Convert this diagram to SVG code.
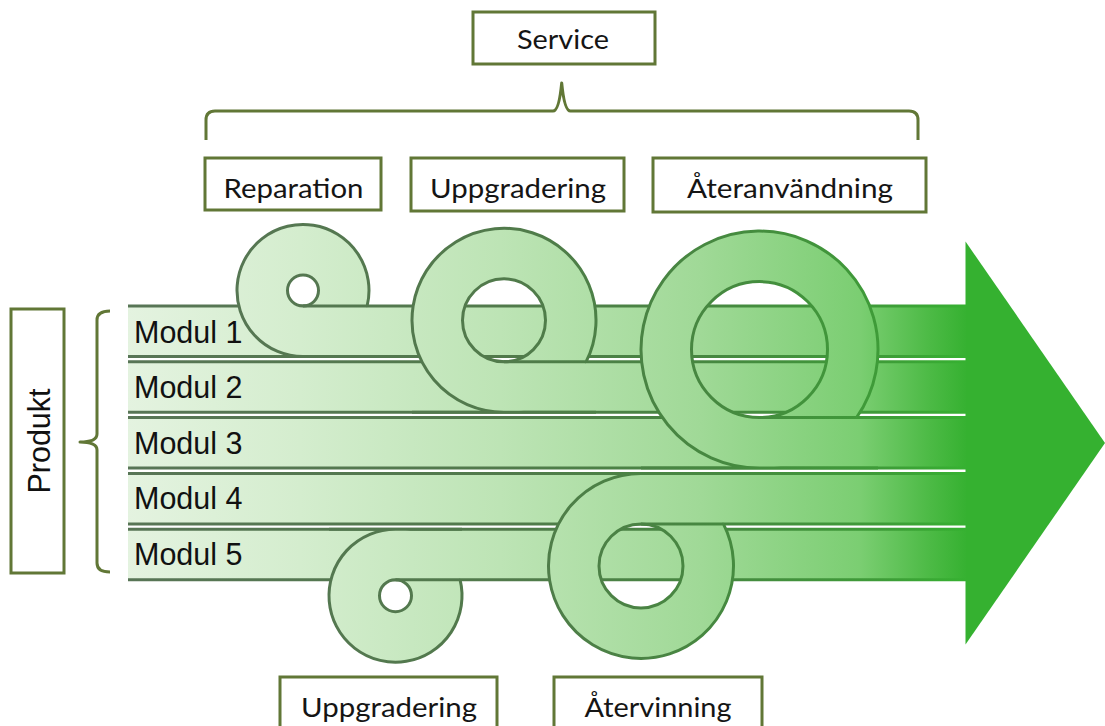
<svg xmlns="http://www.w3.org/2000/svg" width="1105" height="726" viewBox="0 0 1105 726">
  <defs>
    <linearGradient id="gFill" gradientUnits="userSpaceOnUse" x1="128" y1="0" x2="966" y2="0">
      <stop offset="0" stop-color="#e4f3e0"/>
      <stop offset="0.205" stop-color="#d4edce"/>
      <stop offset="0.444" stop-color="#bde4b5"/>
      <stop offset="0.683" stop-color="#a0d997"/>
      <stop offset="0.873" stop-color="#7bce72"/>
      <stop offset="0.957" stop-color="#4cba45"/>
      <stop offset="1" stop-color="#36b131"/>
    </linearGradient>
    <linearGradient id="gLine" gradientUnits="userSpaceOnUse" x1="128" y1="0" x2="966" y2="0">
      <stop offset="0" stop-color="#587556"/>
      <stop offset="0.45" stop-color="#517a4b"/>
      <stop offset="0.7" stop-color="#468840"/>
      <stop offset="0.9" stop-color="#3e9c38"/>
      <stop offset="1" stop-color="#36b131"/>
    </linearGradient>
  </defs>
  <style>
    .box { fill: #ffffff; stroke: #617736; stroke-width: 3; }
    .lbl { font-family: Lato, "Open Sans", sans-serif; font-size: 26.5px; fill: #151515; text-anchor: middle; }
    .mod { font-family: "Liberation Sans", Arial, sans-serif; font-size: 30.5px; fill: #111111; }
    .brace { fill: none; stroke: #617736; stroke-width: 3; stroke-linejoin: round; }
    .strip { fill: url(#gFill); }
    .edge { stroke: url(#gLine); stroke-width: 3; fill: none; }
    .loop { fill: url(#gFill); fill-rule: evenodd; }
  </style>

  <g id="arrow-head">
    <polygon points="965.5,241.5 1105,443 965.5,644.5" fill="#35b130"/>
  </g>

  <g id="strips">
    <g id="strip-1">
      <rect class="strip" x="128" y="306" width="838" height="50.5"/>
      <path class="edge" d="M128,306 H966 M128,356.5 H966"/>
      <text class="mod" x="134" y="342.5">Modul 1</text>
    </g>
    <g id="strip-2">
      <rect class="strip" x="128" y="361.8" width="838" height="50.5"/>
      <path class="edge" d="M128,361.8 H966 M128,412.3 H966"/>
      <text class="mod" x="134" y="398.3">Modul 2</text>
    </g>
    <g id="strip-3">
      <rect class="strip" x="128" y="417.6" width="838" height="50.5"/>
      <path class="edge" d="M128,417.6 H966 M128,468.1 H966"/>
      <text class="mod" x="134" y="453.6">Modul 3</text>
    </g>
    <g id="strip-4">
      <rect class="strip" x="128" y="473.4" width="838" height="50.5"/>
      <path class="edge" d="M128,473.4 H966 M128,523.9 H966"/>
      <text class="mod" x="134" y="509.2">Modul 4</text>
    </g>
    <g id="strip-5">
      <rect class="strip" x="128" y="529.2" width="838" height="50.5"/>
      <path class="edge" d="M128,529.2 H966 M128,579.7 H966"/>
      <text class="mod" x="134" y="565">Modul 5</text>
    </g>
  </g>

  <g id="loops">
    <g id="loop-reparation">
      <path class="loop" d="M237,290.5 A66,66 0 1 0 369,290.5 A66,66 0 1 0 237,290.5 Z M287.5,290.5 A15.5,15.5 0 1 0 318.5,290.5 A15.5,15.5 0 1 0 287.5,290.5 Z"/>
      <path class="edge" d="M367.15,306 A66,66 0 1 0 303,356.5 M303,306 L367.15,306 M237,356.5 H369"/>
      <circle class="edge" cx="303" cy="290.5" r="15.5"/>
    </g>
    <g id="loop-uppgradering-top">
      <path class="loop" d="M412,320.3 A92,92 0 1 0 596,320.3 A92,92 0 1 0 412,320.3 Z M462.5,320.3 A41.5,41.5 0 1 0 545.5,320.3 A41.5,41.5 0 1 0 462.5,320.3 Z"/>
      <path class="edge" d="M586.11,361.8 A92,92 0 1 0 504,412.3 M504,361.8 L586.11,361.8 M412,412.3 H596"/>
      <circle class="edge" cx="504" cy="320.3" r="41.5"/>
    </g>
    <g id="loop-ateranvandning">
      <path class="loop" d="M641,349.6 A118.5,118.5 0 1 0 878,349.6 A118.5,118.5 0 1 0 641,349.6 Z M691.5,349.6 A68,68 0 1 0 827.5,349.6 A68,68 0 1 0 691.5,349.6 Z"/>
      <path class="edge" d="M856.55,417.6 A118.5,118.5 0 1 0 759.5,468.1 M759.5,417.6 L856.55,417.6 M641,468.1 H878"/>
      <circle class="edge" cx="759.5" cy="349.6" r="68"/>
    </g>
    <g id="loop-atervinning">
      <path class="loop" d="M548.5,565.9 A92.5,92.5 0 1 0 733.5,565.9 A92.5,92.5 0 1 0 548.5,565.9 Z M599,565.9 A42,42 0 1 0 683,565.9 A42,42 0 1 0 599,565.9 Z"/>
      <path class="edge" d="M641,473.4 A92.5,92.5 0 1 0 723.41,523.9 M641,523.9 L723.41,523.9 M548.5,473.4 H733.5"/>
      <circle class="edge" cx="641" cy="565.9" r="42"/>
    </g>
    <g id="loop-uppgradering-bottom">
      <path class="loop" d="M329,595.7 A66.5,66.5 0 1 0 462,595.7 A66.5,66.5 0 1 0 329,595.7 Z M379.5,595.7 A16,16 0 1 0 411.5,595.7 A16,16 0 1 0 379.5,595.7 Z"/>
      <path class="edge" d="M395.5,529.2 A66.5,66.5 0 1 0 460.05,579.7 M395.5,579.7 L460.05,579.7 M329,529.2 H462"/>
      <circle class="edge" cx="395.5" cy="595.7" r="16"/>
    </g>
  </g>

  <g id="connectors">
    <path class="brace" d="M206,140 L206,120 Q206,111 215,111 L553,111 Q559,111 561.7,83 Q564.4,111 570.4,111 L909,111 Q918,111 918,120 L918,140"/>
    <path class="brace" d="M110,311 Q97,311 97,320 L97,434 Q97,442 80,442 Q97,442 97,450 L97,563 Q97,572 110,572"/>
  </g>

  <g id="node-service">
    <rect class="box" x="473" y="12" width="182" height="52"/>
    <text class="lbl" x="563" y="48.5" textLength="92" lengthAdjust="spacingAndGlyphs">Service</text>
  </g>
  <g id="node-reparation">
    <rect class="box" x="205" y="158" width="176" height="52"/>
    <text class="lbl" x="293.5" y="198" textLength="140" lengthAdjust="spacingAndGlyphs">Reparation</text>
  </g>
  <g id="node-uppgradering-top">
    <rect class="box" x="411" y="158" width="213" height="53"/>
    <text class="lbl" x="518" y="198" textLength="176" lengthAdjust="spacingAndGlyphs">Uppgradering</text>
  </g>
  <g id="node-ateranvandning">
    <rect class="box" x="653" y="158" width="273" height="54"/>
    <text class="lbl" x="790" y="198" textLength="206" lengthAdjust="spacingAndGlyphs">Återanvändning</text>
  </g>
  <g id="node-uppgradering-bottom">
    <rect class="box" x="280" y="677" width="217" height="54"/>
    <text class="lbl" x="389" y="716.5" textLength="176" lengthAdjust="spacingAndGlyphs">Uppgradering</text>
  </g>
  <g id="node-atervinning">
    <rect class="box" x="554" y="677" width="208" height="54"/>
    <text class="lbl" x="658" y="716.5" textLength="147" lengthAdjust="spacingAndGlyphs">Återvinning</text>
  </g>
  <g id="node-produkt">
    <rect class="box" x="11" y="309" width="53" height="264"/>
    <text class="mod" x="0" y="0" font-size="28" text-anchor="middle" transform="translate(50,441) rotate(-90)">Produkt</text>
  </g>
</svg>
